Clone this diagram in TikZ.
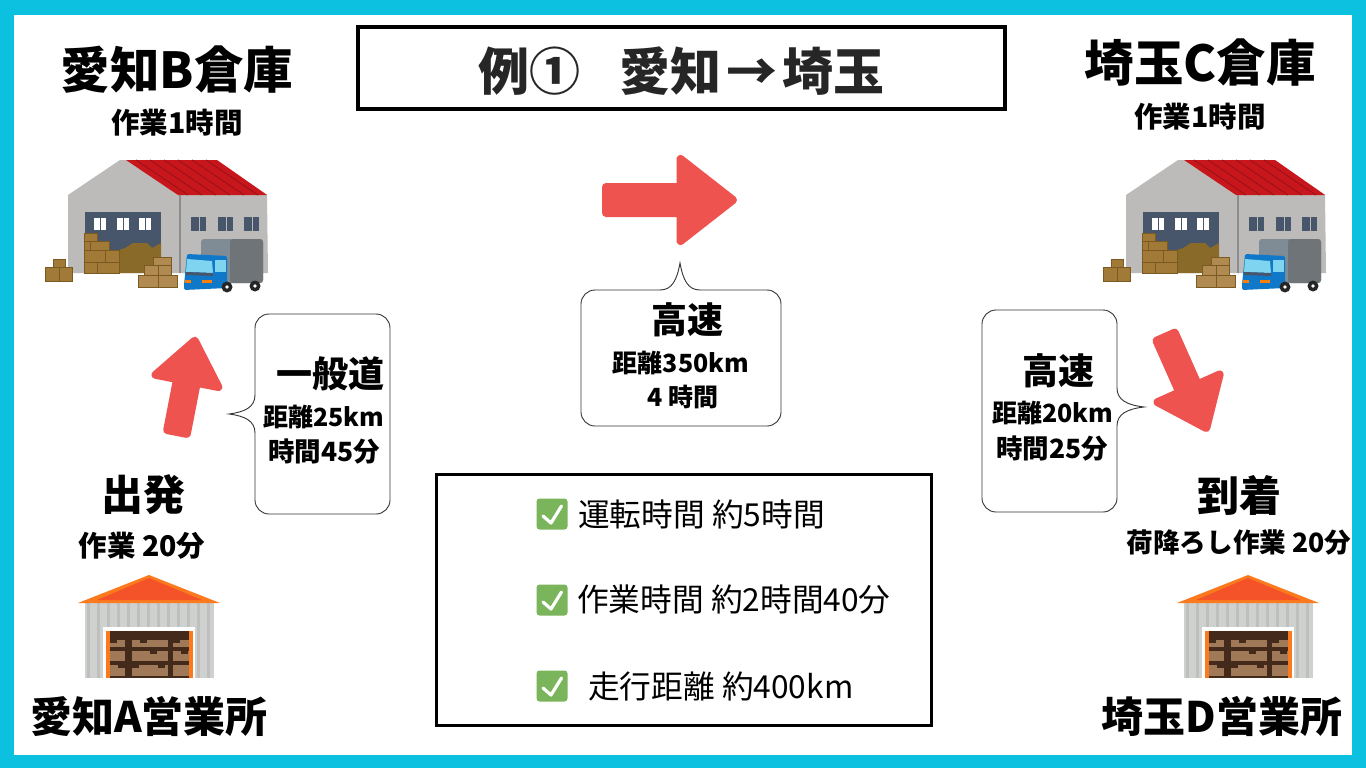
\documentclass[tikz,border=0pt]{standalone}
\usepackage{fontspec}
\setmainfont{Noto Sans CJK JP}
\usetikzlibrary{shapes.arrows}
\definecolor{framecyan}{HTML}{0CC0DF}
\definecolor{arrowred}{HTML}{EF5350}
\definecolor{wallgray}{HTML}{BDBBB9}
\definecolor{roofred}{HTML}{C8161D}
\definecolor{roofdark}{HTML}{9E1218}
\definecolor{slate}{HTML}{47566B}
\definecolor{boxbrown}{HTML}{A17A38}
\definecolor{boxpale}{HTML}{B08A50}
\definecolor{boxdark}{HTML}{7A5A20}
\definecolor{boxshade}{HTML}{8A6A28}
\definecolor{truckblue}{HTML}{0F78C8}
\definecolor{truckgray}{HTML}{6F7478}
\definecolor{trucklight}{HTML}{7F8B95}
\definecolor{glasscyan}{HTML}{7FD4F0}
\definecolor{tinorange}{HTML}{FB7A1E}
\definecolor{tinred}{HTML}{F4532A}
\definecolor{tinwall}{HTML}{CFD1CF}
\definecolor{shelfdark}{HTML}{442A1A}
\definecolor{shelfbox}{HTML}{A07A58}
\definecolor{checkgreen}{HTML}{7AB55C}
\tikzset{
  bighead/.style={font=\fontsize{49.5}{52}\selectfont\bfseries},
  officehead/.style={font=\fontsize{42}{46}\selectfont\bfseries},
  placehead/.style={font=\fontsize{42}{46}\selectfont\bfseries},
  midhead/.style={font=\fontsize{36}{40}\selectfont\bfseries},
  subtext/.style={font=\fontsize{28.5}{32}\selectfont\bfseries},
  disttext/.style={font=\fontsize{25}{30}\selectfont\bfseries},
  timetext/.style={font=\fontsize{26.5}{30}\selectfont\bfseries},
  infotext/.style={font=\fontsize{31.7}{36}\selectfont, anchor=west, inner xsep=0pt},
  bluntarrow/.style={single arrow, anchor=tail, fill=arrowred, draw=arrowred, line width=8pt, line join=round, inner xsep=0pt, outer sep=0pt, single arrow head indent=0pt, single arrow tip angle=76},
  calloutline/.style={draw=black!80, line width=0.9pt, rounded corners=14pt},
  tipline/.style={draw=black!80, line width=0.9pt},
  checkbox/.style={fill=checkgreen, rounded corners=3pt, minimum size=31pt, inner sep=0pt},
  boxpile/.style={fill=boxbrown, draw=boxdark, line width=0.8pt},
  palepile/.style={fill=boxpale, draw=boxdark, line width=0.8pt},
  warehouse/.pic={
    \fill[wallgray] (68,195) -- (120,160) -- (216,160) -- (267,195) -- (268,273) -- (68,273) -- cycle;
    \fill[roofred] (126,160) -- (217,160) -- (267,195) -- (178,195) -- cycle;
    \foreach \s in {0,...,5} {
        \draw[roofdark, line width=1pt] (136+\s*14,160) -- (188+\s*14,195);
    }
    \draw[black!45, line width=1.2pt] (180,195) -- (180,273);
    \fill[slate] (85,212) rectangle (161,273);
    \foreach \s in {94,117,139} {
        \fill[white] (\s,218) rectangle (\s+12,230);
        \draw[slate, line width=1pt] (\s+6,218) -- (\s+6,230);
    }
    \foreach \s in {191,218,244} {
        \fill[slate] (\s,217) rectangle (\s+15,231);
        \draw[wallgray, line width=0.7pt] (\s+8,217) -- (\s+8,231);
    }
    \fill[boxshade] (119,273) -- (119,250) -- (125,248) -- (133,243) -- (147,243) -- (152,248) -- (161,243) -- (161,273) -- cycle;
    \foreach \a/\b/\c/\d in {84/233/97/241, 84/241/109/250, 84/250/119/262, 84/262/119/273} {
        \draw[boxpile] (\a,\b) rectangle (\c,\d);
    }
    \draw[boxdark, line width=0.8pt] (90,241) -- (90,250) (105,250) -- (105,262) (97,262) -- (97,273);
    \draw[boxpile] (53,259) rectangle (65,267);
    \draw[boxpile] (45,267) rectangle (72,281);
    \draw[palepile] (153,257) rectangle (171,265);
    \draw[palepile] (144,265) rectangle (171,275);
    \draw[palepile] (138,275) rectangle (177,287);
    \draw[boxdark, line width=0.8pt] (158,275) -- (158,287) (158,265) -- (158,275) (59,267) -- (59,281);
    \fill[trucklight, rounded corners=3pt] (201,239) rectangle (263,283);
    \fill[truckgray, rounded corners=3pt] (230,239) rectangle (263,283);
    \foreach \s in {245,253,261,269,277} {
        \draw[black!55, line width=0.8pt] (235,\s) -- (261,\s);
    }
    \fill[truckblue, rounded corners=1.5pt] (187,254) -- (227,256) -- (227,288) -- (184,290) -- (184,285) -- cycle;
    \fill[glasscyan] (187,259) -- (212,261) -- (213,273) -- (186,272) -- cycle;
    \fill[glasscyan] (215,260) -- (226,260) -- (226,272) -- (215,272) -- cycle;
    \fill[slate] (186,272) -- (213,273) -- (213,276) -- (186,275) -- cycle;
    \fill[orange] (185,280) rectangle (191,283);
    \fill[orange] (202,280) rectangle (212,283);
    \fill[black!85] (227,287) circle (5.5);
    \fill[white] (227,287) circle (1.8);
    \fill[black!85] (255,286) circle (5.5);
    \fill[white] (255,286) circle (1.8);
  },
  tinshed/.pic={
    \fill[tinwall] (85,603) rectangle (214,678);
    \foreach \s in {0,...,12} {
        \fill[black!25] (87+\s*10,603) rectangle (90+\s*10,678);
    }
    \fill[tinorange] (149,575) -- (220,603) -- (78,603) -- cycle;
    \fill[tinred] (149,578) -- (202,600) -- (97,600) -- cycle;
    \fill[white] (103,627) rectangle (195,678);
    \fill[tinorange] (106,631) rectangle (193,678);
    \fill[shelfdark] (110,631) rectangle (189,678);
    \foreach \a/\c in {110/125, 132/168, 173/189} {
        \foreach \b/\d in {640/647, 651/661, 665/676} {
            \fill[shelfbox] (\a,\b) rectangle (\c,\d);
        }
    }
    \foreach \a/\b in {110/640, 118/665, 140/640, 150/651, 158/665, 132/665, 181/651, 173/640} {
        \fill[shelfdark] (\a,\b) rectangle (\a+7,\b+3);
    }
  }
}

\begin{document}
\begin{tikzpicture}[x=1pt, y=-1pt]

    \fill[framecyan] (0,0) rectangle (1366,768);
    \fill[white] (14,15) rectangle (1352,755);

    \pic at (0,0) {warehouse};
    \pic at (1058,0) {warehouse};
    \pic at (0,0) {tinshed};
    \pic at (1099,0) {tinshed};

    \node[draw=black, line width=3.5pt, minimum width=647pt, minimum height=82pt] (titlebox) at (681.5,68) {};
    \node[font=\fontsize{51}{54}\selectfont\bfseries, text=black!85] (title) at (681.5,71) {例①\hspace{0.75em}愛知\hspace{0.1em}→\hspace{0.1em}埼玉};

    \node[bighead] (bsouko) at (177,70) {愛知B倉庫};
    \node[subtext] (bwork) at (177,123) {作業1時間};
    \node[bighead] (csouko) at (1200,63) {埼玉C倉庫};
    \node[subtext] (cwork) at (1200,117) {作業1時間};
    \node[placehead] (start) at (143,495) {出発};
    \node[subtext] (startwork) at (142,546) {作業 20分};
    \node[placehead] (goal) at (1239,495) {到着};
    \node[font=\fontsize{26.6}{30}\selectfont\bfseries] (goalwork) at (1239,542) {荷降ろし作業 20分};
    \node[officehead] (aoffice) at (149,716) {愛知A営業所};
    \node[officehead] (doffice) at (1222,716) {埼玉D営業所};

    \node[bluntarrow, minimum height=127pt, inner ysep=9pt, single arrow head extend=28pt] (arrowmid) at (606,200) {};
    \node[bluntarrow, minimum height=93pt, inner ysep=6pt, single arrow head extend=22pt, rotate=79] (arrowup) at (177,432) {};
    \node[bluntarrow, minimum height=100pt, inner ysep=6pt, single arrow head extend=24pt, rotate=-66] (arrowdown) at (1165.6,336.7) {};

    % callouts
    \draw[calloutline] (255,395) -- (255,314) -- (390,314) -- (390,514) -- (255,514) -- (255,433);
    \draw[tipline] (255,395) .. controls (255,407) and (245,412) .. (229,414) .. controls (245,416) and (255,421) .. (255,433);
    \draw[calloutline] (660,290) -- (581,290) -- (581,426) -- (781,426) -- (781,290) -- (700,290);
    \draw[tipline] (660,290) .. controls (672,290) and (677,280) .. (680,263) .. controls (683,280) and (688,290) .. (700,290);
    \draw[calloutline] (1117,388) -- (1117,310) -- (982,310) -- (982,512) -- (1117,512) -- (1117,426);
    \draw[tipline] (1117,388) .. controls (1117,400) and (1127,405) .. (1144,407) .. controls (1127,409) and (1117,414) .. (1117,426);

    \node[midhead] (ippan) at (330,374) {一般道};
    \node[disttext] (ippandist) at (324,417) {距離25km};
    \node[timetext] (ippantime) at (324,452) {時間45分};
    \node[midhead] (kosoku) at (687,320) {高速};
    \node[disttext] (kosokudist) at (681,363) {距離350km};
    \node[disttext] (kosokutime) at (683,397) {4 時間};
    \node[midhead] (kosokub) at (1058,371) {高速};
    \node[disttext] (kosokubdist) at (1053,413) {距離20km};
    \node[timetext] (kosokubtime) at (1052,449) {時間25分};

    \node[draw=black, line width=3pt, minimum width=495pt, minimum height=251pt] (infobox) at (683.5,599.5) {};
    \node[infotext] (unten) at (578,514) {運転時間 約5時間};
    \node[infotext] (sagyo) at (577,600) {作業時間 約2時間40分};
    \node[infotext] (soko) at (588,686) {走行距離 約400km};
    \foreach \n/\yy in {a/514, b/600, c/686} {
        \node[checkbox] (check\n) at (552,\yy) {};
        \draw[white, line width=3.2pt, line cap=round, line join=round] ([shift={(-9,2)}]check\n.center) -- ([shift={(-1,9)}]check\n.center) -- ([shift={(9.5,-8)}]check\n.center);
    }

\end{tikzpicture}
\end{document}
